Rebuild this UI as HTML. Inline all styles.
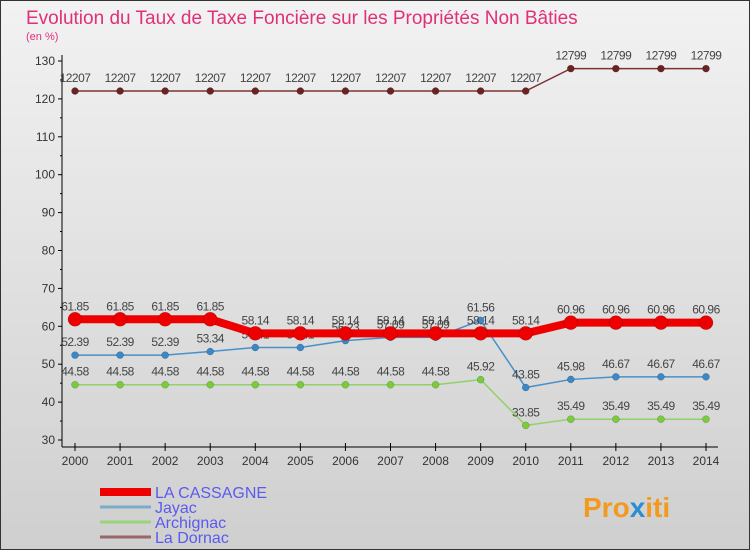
<!DOCTYPE html>
<html><head><meta charset="utf-8"><style>
body{margin:0;width:750px;height:550px;overflow:hidden;font-family:"Liberation Sans",sans-serif}
#wrap{position:absolute;left:0;top:0;width:748px;height:548px;border:1px solid #333;background:linear-gradient(#f2f2f2,#cfcfcf)}
</style></head><body>
<div id="wrap">
<svg id="chart" width="750" height="550" style="position:absolute;left:-1px;top:-1px">
<text x="26" y="24" font-size="19" fill="#e0307a">Evolution du Taux de Taxe Foncière sur les Propriétés Non Bâties</text>
<text x="26" y="40" font-size="11" fill="#e0307a">(en %)</text>
<g id="axes"></g><g id="series"></g><g id="legend"></g>
<text x="583" y="517" font-size="28" font-weight="bold" fill="#f39a1e">Pro<tspan fill="#2a8fd0">x</tspan>iti</text>
</svg></div>
<script>
const years=[2000,2001,2002,2003,2004,2005,2006,2007,2008,2009,2010,2011,2012,2013,2014];
const yTicks=[30,40,50,60,70,80,90,100,110,120,130];
const cassagne=[61.85,61.85,61.85,61.85,58.14,58.14,58.14,58.14,58.14,58.14,58.14,60.96,60.96,60.96,60.96];
const jayac=[52.39,52.39,52.39,53.34,54.41,54.41,56.23,57.09,57.09,61.56,43.85,45.98,46.67,46.67,46.67];
const archignac=[44.58,44.58,44.58,44.58,44.58,44.58,44.58,44.58,44.58,45.92,33.85,35.49,35.49,35.49,35.49];
const dornac=[122.07,122.07,122.07,122.07,122.07,122.07,122.07,122.07,122.07,122.07,122.07,127.99,127.99,127.99,127.99];
const NS="http://www.w3.org/2000/svg";
const X=i=>75+i*(706-75)/(years.length-1);
const Y=v=>440-(v-30)*(440-61)/100;
function mk(t,a,p){const e=document.createElementNS(NS,t);for(const k in a)e.setAttribute(k,a[k]);p.appendChild(e);return e;}
const ax=document.getElementById('axes');
let e=mk('line',{x1:62,y1:55,x2:62,y2:447,stroke:'#000'},ax);


e=mk('line',{x1:62,y1:447,x2:718,y2:447,stroke:'#000'},ax);


yTicks.forEach(v=>{
 mk('line',{x1:58,y1:Y(v),x2:62,y2:Y(v),stroke:'#000'},ax);
 if(v<130)mk('line',{x1:60,y1:Y(v+5),x2:62,y2:Y(v+5),stroke:'#000'},ax);
 const t=mk('text',{x:55,y:Y(v)+4,'font-size':12,fill:'#333','text-anchor':'end'},ax);t.textContent=v;
 
 
});
years.forEach((y,i)=>{
 mk('line',{x1:X(i),y1:443,x2:X(i),y2:451,stroke:'#000'},ax);
 const t=mk('text',{x:X(i),y:465,'font-size':12,fill:'#333','text-anchor':'middle'},ax);t.textContent=y;
 
 
});
const sg=document.getElementById('series');
function series(d,name,col,w,r,dot,lab){
 const g=mk('g',{},sg);
 
 
 const p=mk('polyline',{points:d.map((v,i)=>X(i)+','+Y(v)).join(' '),fill:'none',stroke:col,'stroke-width':w},g);
 
 
 d.forEach((v,i)=>{
  const c=mk('circle',{cx:X(i),cy:Y(v),r:r,fill:dot,stroke:'rgba(0,0,0,0.3)','stroke-width':0.5},g);
  
  
  const t=mk('text',{x:X(i),y:Y(v)-9,'font-size':12,fill:'#444','text-anchor':'middle','letter-spacing':'-0.5'},g);
  t.textContent=lab(v);
  
  
 });
}
const f2=v=>v.toFixed(2);
series(dornac,'la-dornac','#7a3434',1.5,3.5,'#6b2222',v=>v.toFixed(2).replace('.',''));
series(archignac,'archignac','#8fd26a',1.5,3.5,'#7acc3a',f2);
series(jayac,'jayac','#4a90c8',1.5,3.5,'#3a88c8',f2);
series(cassagne,'la-cassagne','#ee0000',8,7,'#ee0000',f2);
const lg=document.getElementById('legend');
[['LA CASSAGNE','#ee0000',8],['Jayac','#7aabc8',3],['Archignac','#9ad47a',3],['La Dornac','#9a6868',3]].forEach((l,i)=>{
 const y=492+i*15;
 const ln=mk('line',{x1:100,y1:y,x2:151,y2:y,stroke:l[1],'stroke-width':l[2]},lg);
 
 
 const t=mk('text',{x:155,y:y+6,'font-size':16,fill:'#5a5aee'},lg);t.textContent=l[0];
 
 
});
</script>
</body></html>
